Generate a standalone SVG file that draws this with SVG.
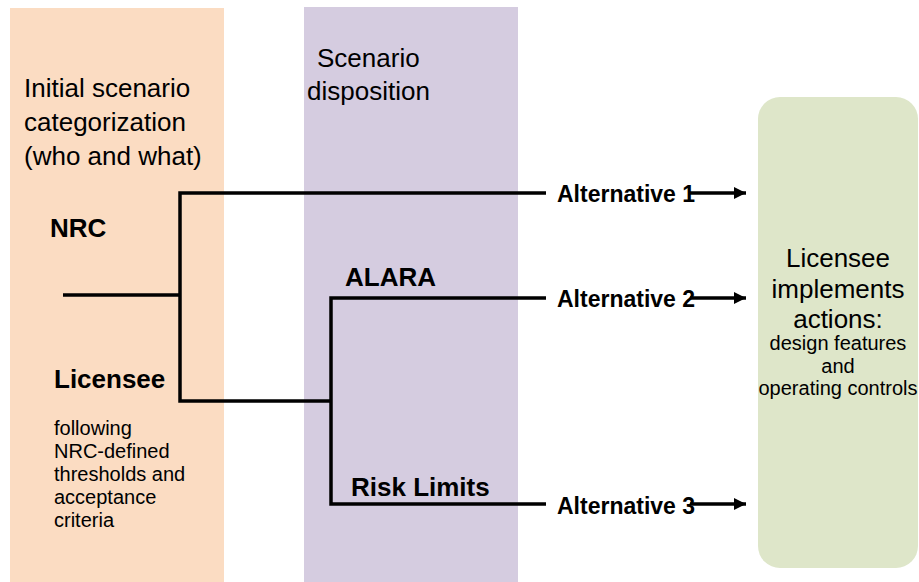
<svg xmlns="http://www.w3.org/2000/svg" width="919" height="582" viewBox="0 0 919 582">
<style>
text{font-family:"Liberation Sans",Arial,sans-serif;fill:#000}
.hd{font-size:26px}
.b{font-weight:bold;font-size:26px}
.alt{font-weight:bold;font-size:23px}
.sm{font-size:20px}
.ln{stroke:#000;stroke-width:3.5;fill:none}
</style>
<defs>
<marker id="ah" viewBox="0 0 12 12" refX="12" refY="6" markerWidth="12" markerHeight="12" markerUnits="userSpaceOnUse" orient="auto">
<path d="M0,0 L12,6 L0,12 z" fill="#000"/>
</marker>
</defs>
<g id="col-initial">
<rect x="10" y="8" width="214" height="574" fill="#FBDCC2"/>
<text class="hd" x="24" y="97">Initial scenario</text>
<text class="hd" x="24" y="131">categorization</text>
<text class="hd" x="24" y="165">(who and what)</text>
</g>
<g id="col-disposition">
<rect x="304" y="7" width="214" height="575" fill="#D5CCE0"/>
<text class="hd" x="317" y="67">Scenario</text>
<text class="hd" x="307" y="100">disposition</text>
</g>
<g id="node-actions">
<rect x="758" y="97" width="160" height="471" rx="22" ry="22" fill="#DEE6C9"/>
<text class="hd" x="838" y="267" text-anchor="middle">Licensee</text>
<text class="hd" x="838" y="298" text-anchor="middle">implements</text>
<text class="hd" x="838" y="328" text-anchor="middle">actions:</text>
<text class="sm" x="838" y="350" text-anchor="middle">design features</text>
<text class="sm" x="838" y="373" text-anchor="middle">and</text>
<text class="sm" x="838" y="395" text-anchor="middle">operating controls</text>
</g>
<g id="node-nrc"><text class="b" x="50" y="237">NRC</text></g>
<g id="node-licensee">
<text class="b" x="54" y="388">Licensee</text>
<text class="sm" x="54" y="435">following</text>
<text class="sm" x="54" y="458">NRC-defined</text>
<text class="sm" x="54" y="481">thresholds and</text>
<text class="sm" x="54" y="504">acceptance</text>
<text class="sm" x="54" y="527">criteria</text>
</g>
<g id="node-alara"><text class="b" x="345" y="286">ALARA</text></g>
<g id="node-risk"><text class="b" x="351" y="496">Risk Limits</text></g>
<g id="node-alt1"><text class="alt" x="557" y="202">Alternative 1</text></g>
<g id="node-alt2"><text class="alt" x="557" y="307">Alternative 2</text></g>
<g id="node-alt3"><text class="alt" x="557" y="514">Alternative 3</text></g>
<g id="connectors">
<path class="ln" d="M63,295 H180"/>
<path class="ln" d="M546,193 H180 V401 H331"/>
<path class="ln" d="M546,298 H331 V504 H546"/>
<path class="ln" d="M690,193 H746" marker-end="url(#ah)"/>
<path class="ln" d="M690,298 H746" marker-end="url(#ah)"/>
<path class="ln" d="M690,504 H746" marker-end="url(#ah)"/>
</g>
</svg>
